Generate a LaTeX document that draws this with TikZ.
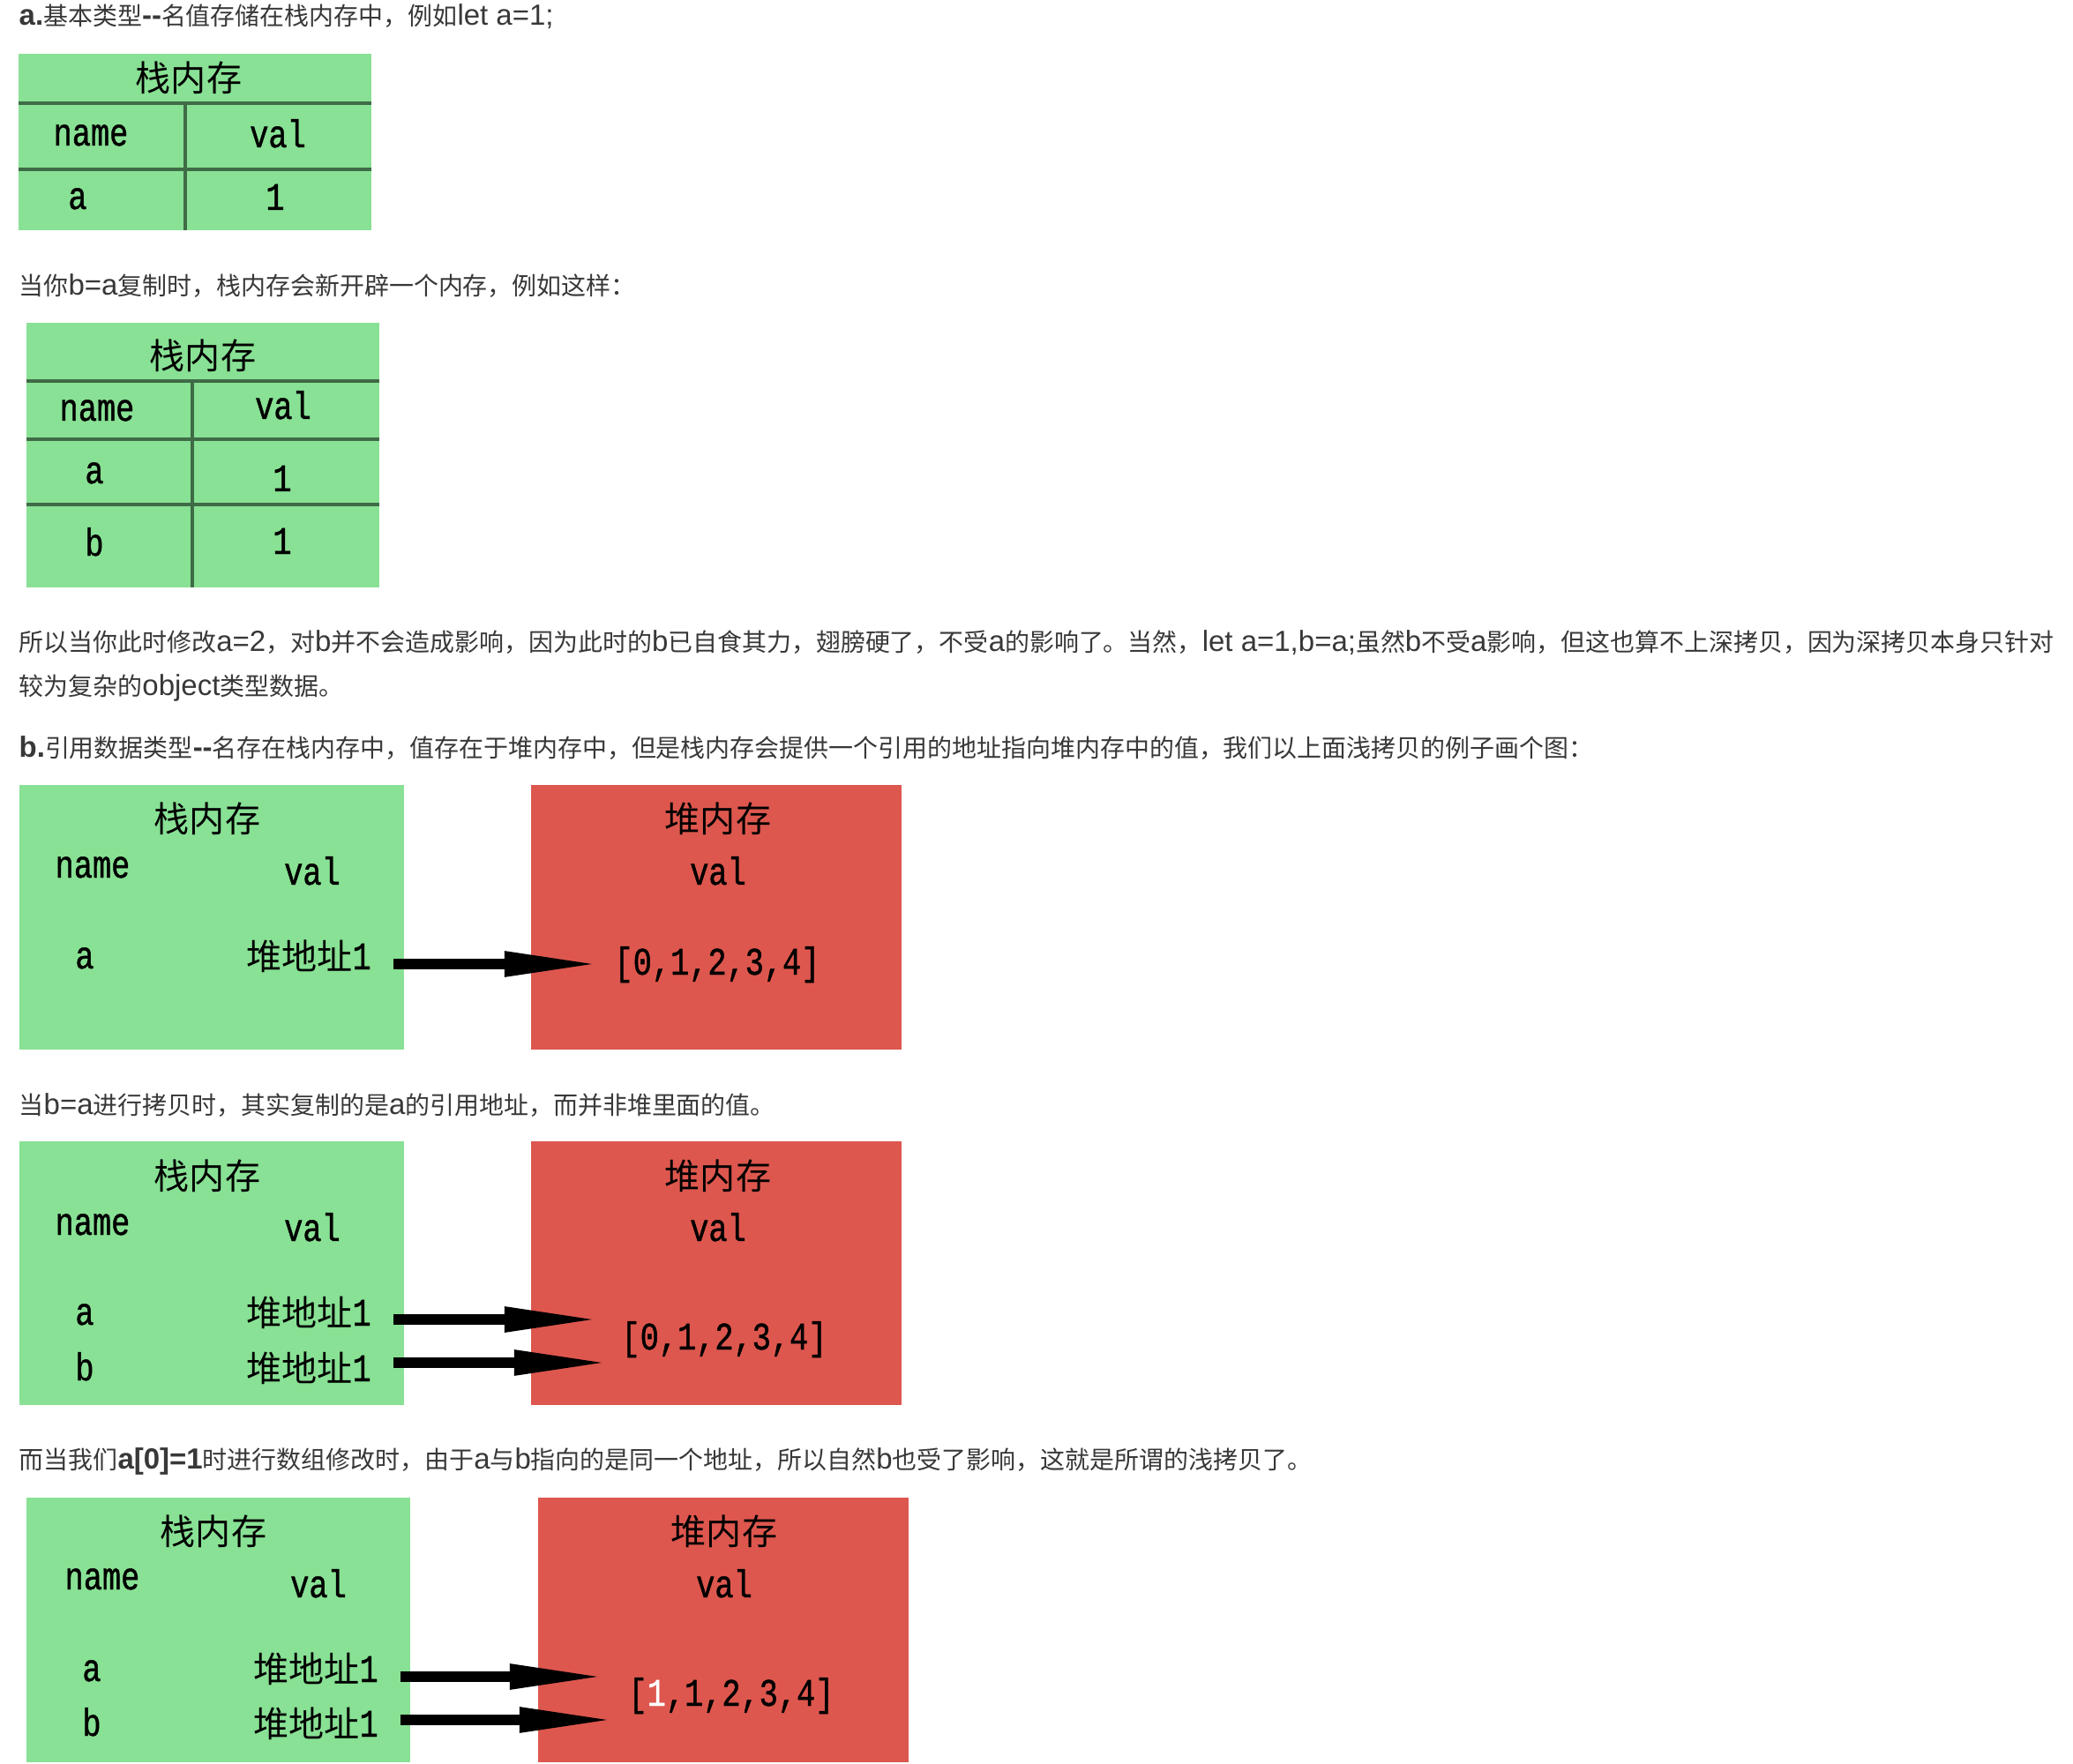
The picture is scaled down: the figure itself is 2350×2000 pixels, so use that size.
\documentclass[tikz,border=0pt]{standalone}
\usepackage{fontspec}
\setmainfont{Noto Sans CJK SC}
\newfontfamily\latfont[Scale=1.18]{Liberation Sans}
\newfontfamily\monofont[Scale=1.1,FakeStretch=0.8,FakeBold=1]{Liberation Mono}
\usetikzlibrary{arrows.meta}
\definecolor{stackgreen}{HTML}{88E194}
\definecolor{heapred}{HTML}{DD574E}
\definecolor{gridline}{HTML}{3F6B46}
\definecolor{bodytext}{HTML}{383838}
\newcommand{\heapaddr}{堆地址{\monofont 1}}
\newcommand{\lat}[1]{{\latfont #1}}

\begin{document}
\begin{tikzpicture}[x=0.01cm, y=-0.01cm,
    para/.style={anchor=base west, inner sep=0pt, text=bodytext, font=\fontsize{7.95pt}{9.5pt}\selectfont},
    cell/.style={anchor=base, inner sep=0pt, font=\fontsize{11.4pt}{13pt}\selectfont},
    code/.style={cell, font=\fontsize{11.4pt}{13pt}\selectfont\monofont},
    gridrule/.style={draw=gridline, line width=0.035cm},
    ptr/.style={line width=0.12cm, shorten <=0.25cm, -{Triangle[length=1.1cm, width=0.26cm]}}]
\useasboundingbox (0,0) rectangle (2350,2000);

\node[para] (t1) at (21,29) {\textbf{\lat{a.}}基本类型\textbf{\lat{-{}-}}名值存储在栈内存中，例如\lat{let a=1;}};
\fill[stackgreen] (21,61) rectangle (421,261);
\draw[gridrule] (21,117) -- (421,117) (21,192) -- (421,192) (210,117) -- (210,261);
\node[cell] (k1title) at (214,104) {栈内存};
\node[code] (k1name) at (103,165) {name};
\node[code] (k1val) at (315,167) {val};
\node[code] (k1a) at (88,237) {a};
\node[code] (k1av) at (312,238) {1};

\node[para] (t2) at (21,334) {当你\lat{b=a}复制时，栈内存会新开辟一个内存，例如这样：};
\fill[stackgreen] (30,366) rectangle (430,666);
\draw[gridrule] (30,432) -- (430,432) (30,498) -- (430,498) (30,572) -- (430,572) (218,432) -- (218,666);
\node[cell] (k2title) at (230,419) {栈内存};
\node[code] (k2name) at (110,477) {name};
\node[code] (k2val) at (321,475) {val};
\node[code] (k2a) at (107,548) {a};
\node[code] (k2av) at (320,557) {1};
\node[code] (k2b) at (107,630) {b};
\node[code] (k2bv) at (320,628) {1};

\node[para] (t3) at (21,738) {所以当你此时修改\lat{a=2}，对\lat{b}并不会造成影响，因为此时的\lat{b}已自食其力，翅膀硬了，不受\lat{a}的影响了。当然，\lat{let a=1,b=a;}虽然\lat{b}不受\lat{a}影响，但这也算不上深拷贝，因为深拷贝本身只针对};
\node[para] (t4) at (21,788) {较为复杂的\lat{object}类型数据。};
\node[para] (t5) at (21,858) {\textbf{\lat{b.}}引用数据类型\textbf{\lat{-{}-}}名存在栈内存中，值存在于堆内存中，但是栈内存会提供一个引用的地址指向堆内存中的值，我们以上面浅拷贝的例子画个图：};

\fill[stackgreen] (22,890) rectangle (458,1190);
\fill[heapred] (602,890) rectangle (1022,1190);
\node[cell] (s1title) at (235,943) {栈内存};
\node[code] (s1name) at (105,995) {name};
\node[code] (s1val) at (354,1003) {val};
\node[code] (s1a) at (96,1098) {a};
\node[cell] (s1ha) at (350,1099) {\heapaddr};
\node[cell] (h1title) at (814,943) {堆内存};
\node[code] (h1val) at (814,1003) {val};
\node[code] (h1arr) at (813,1105) {[0,1,2,3,4]};
\coordinate (s1pa) at ([yshift=0.06cm]s1ha.base east);
\draw[ptr, shorten >=0.14cm] (s1pa) -- (s1pa -| h1arr.west);

\node[para] (t6) at (21,1263) {当\lat{b=a}进行拷贝时，其实复制的是\lat{a}的引用地址，而并非堆里面的值。};
\fill[stackgreen] (22,1294) rectangle (458,1593);
\fill[heapred] (602,1294) rectangle (1022,1593);
\node[cell] (s2title) at (235,1348) {栈内存};
\node[code] (s2name) at (105,1400) {name};
\node[code] (s2val) at (354,1407) {val};
\node[code] (s2a) at (96,1502) {a};
\node[cell] (s2ha) at (350,1503) {\heapaddr};
\node[code] (s2b) at (96,1565) {b};
\node[cell] (s2hb) at (350,1566) {\heapaddr};
\node[cell] (h2title) at (814,1348) {堆内存};
\node[code] (h2val) at (814,1407) {val};
\node[code] (h2arr) at (821,1530) {[0,1,2,3,4]};
\coordinate (s2pa) at ([yshift=0.07cm]s2ha.base east);
\coordinate (s2pb) at ([yshift=0.21cm]s2hb.base east);
\draw[ptr, shorten >=0.22cm] (s2pa) -- (s2pa -| h2arr.west);
\draw[ptr, shorten >=0.11cm] (s2pb) -- (s2pb -| h2arr.west);

\node[para] (t7) at (21,1665) {而当我们\textbf{\lat{a[0]=1}}时进行数组修改时，由于\lat{a}与\lat{b}指向的是同一个地址，所以自然\lat{b}也受了影响，这就是所谓的浅拷贝了。};
\fill[stackgreen] (30,1698) rectangle (465,1998);
\fill[heapred] (610,1698) rectangle (1030,1998);
\node[cell] (s3title) at (242,1751) {栈内存};
\node[code] (s3name) at (116,1802) {name};
\node[code] (s3val) at (361,1811) {val};
\node[code] (s3a) at (104,1906) {a};
\node[cell] (s3ha) at (358,1907) {\heapaddr};
\node[code] (s3b) at (104,1968) {b};
\node[cell] (s3hb) at (358,1969) {\heapaddr};
\node[cell] (h3title) at (821,1751) {堆内存};
\node[code] (h3val) at (821,1811) {val};
\node[code] (h3arr) at (829,1934) {[\textcolor{white}{1},1,2,3,4]};
\coordinate (s3pa) at ([yshift=0.06cm]s3ha.base east);
\coordinate (s3pb) at ([yshift=0.19cm]s3hb.base east);
\draw[ptr, shorten >=0.24cm] (s3pa) -- (s3pa -| h3arr.west);
\draw[ptr, shorten >=0.13cm] (s3pb) -- (s3pb -| h3arr.west);
\end{tikzpicture}
\end{document}
